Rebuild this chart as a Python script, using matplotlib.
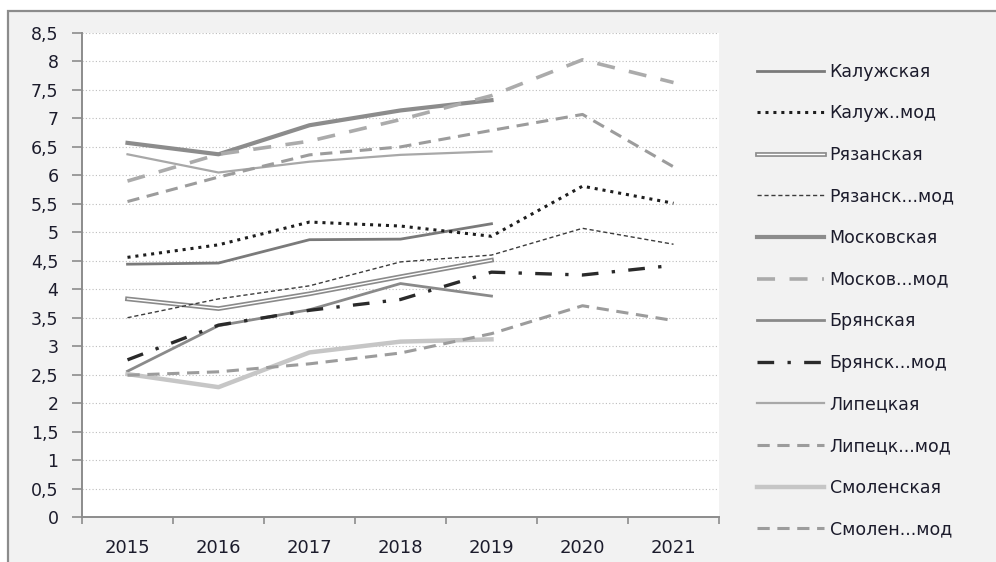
import matplotlib
matplotlib.use("Agg")
import matplotlib.pyplot as plt
import matplotlib.patheffects as pe
from matplotlib.patches import Rectangle
import numpy as np

plt.rcParams['font.family'] = ['DejaVu Sans']

years = ["2015", "2016", "2017", "2018", "2019", "2020", "2021"]

# фактические значения (2015-2019)
kaluga = [4.44, 4.46, 4.87, 4.88, 5.15]
ryazan = [3.83, 3.66, 3.92, 4.22, 4.51]
moscow = [6.57, 6.37, 6.88, 7.14, 7.32]
bryansk = [2.56, 3.36, 3.64, 4.10, 3.88]
lipetsk = [6.37, 6.05, 6.24, 6.36, 6.42]
smolensk = [2.51, 2.28, 2.89, 3.08, 3.12]

# модельные значения (2015-2021)
kaluga_mod = [4.56, 4.78, 5.18, 5.11, 4.93, 5.81, 5.51]
ryazan_mod = [3.50, 3.83, 4.06, 4.48, 4.60, 5.07, 4.79]
moscow_mod = [5.90, 6.37, 6.60, 6.98, 7.40, 8.03, 7.63]
bryansk_mod = [2.76, 3.37, 3.63, 3.82, 4.30, 4.25, 4.42]
lipetsk_mod = [5.54, 5.97, 6.36, 6.50, 6.79, 7.07, 6.15]
smolensk_mod = [2.49, 2.55, 2.69, 2.88, 3.22, 3.71, 3.45]

yticks = np.arange(0, 8.51, 0.5)
ytick_labels = [("%g" % v).replace(".", ",") for v in yticks]

txt = "#1c1c2c"
W, H = 996, 562
fig = plt.figure(figsize=(W / 100, H / 100), dpi=100, facecolor="white")
# серая рамка диаграммы (выходит за правый и нижний край)
frame = Rectangle((8 / W, -0.05), 1.1, 1 - 11 / H + 0.05,
                  transform=fig.transFigure, facecolor="#f2f2f2",
                  edgecolor="#8c8c8c", lw=1.6, zorder=-10)
fig.patches.append(frame)

ax = fig.add_axes([82 / W, (H - 517) / H, 637 / W, 484 / H])
ax.set_zorder(2)
ax.set_facecolor("white")

x5 = np.arange(5)
x7 = np.arange(7)

lines = []
lines += ax.plot(x5, kaluga, color="#7a7a7a", lw=2.0, label="Калужская")
lines += ax.plot(x7, kaluga_mod, color="#1e1e1e", lw=2.2, ls=(0, (1, 1.6)),
                 label="Калуж..мод")
l, = ax.plot(x5, ryazan, color="white", lw=1.0, label="Рязанская",
             path_effects=[pe.Stroke(linewidth=3.4, foreground="#8a8a8a"), pe.Normal()])
lines.append(l)
lines += ax.plot(x7, ryazan_mod, color="#3c3c3c", lw=1.0, ls=(0, (3, 2)),
                 label="Рязанск...мод")
lines += ax.plot(x5, moscow, color="#8c8c8c", lw=3.0, label="Московская")
lines += ax.plot(x7, moscow_mod, color="#ababab", lw=2.6, ls=(0, (5, 4)),
                 label="Москов...мод")
lines += ax.plot(x5, bryansk, color="#8a8a8a", lw=2.0, label="Брянская")
lines += ax.plot(x7, bryansk_mod, color="#2a2a2a", lw=2.4, ls=(0, (5, 4, 1, 4)),
                 label="Брянск...мод")
lines += ax.plot(x5, lipetsk, color="#a8a8a8", lw=1.6, label="Липецкая")
lines += ax.plot(x7, lipetsk_mod, color="#9c9c9c", lw=2.2, ls=(0, (4, 2.5)),
                 label="Липецк...мод")
lines += ax.plot(x5, smolensk, color="#c6c6c6", lw=3.2, label="Смоленская")
lines += ax.plot(x7, smolensk_mod, color="#9c9c9c", lw=2.2, ls=(0, (4, 2.5)),
                 label="Смолен...мод")

ax.set_xlim(-0.5, 6.5)
ax.set_ylim(0, 8.5)
ax.set_yticks(yticks)
ax.set_yticklabels(ytick_labels, fontsize=12.5, color=txt)
ax.set_xticks(np.arange(-0.5, 6.6, 1))
ax.set_xticklabels([])
ax.set_xticks(x7, minor=True)
ax.set_xticklabels(years, minor=True, fontsize=13, color=txt)
ax.tick_params(axis="x", which="minor", length=0, pad=16)
ax.tick_params(axis="x", which="major", length=5, color="#8c8c8c", width=1.2)
ax.tick_params(axis="y", length=7, color="#8c8c8c", width=1.2, pad=10)

ax.yaxis.grid(True, color="#bdbdbd", ls=(0, (1, 2)), lw=0.8)
ax.set_axisbelow(True)
for s in ["top", "right"]:
    ax.spines[s].set_visible(False)
for s in ["left", "bottom"]:
    ax.spines[s].set_color("#8c8c8c")
    ax.spines[s].set_linewidth(1.4)

leg = fig.legend(handles=lines, loc="upper left", bbox_to_anchor=(741 / W, 1 - 47 / H),
                 frameon=False, fontsize=12.5, handlelength=3.9, handletextpad=0.3,
                 labelspacing=1.36)
leg.set_zorder(5)
for t in leg.get_texts():
    t.set_color(txt)

fig.savefig("out.png", dpi=100, facecolor=fig.get_facecolor())
